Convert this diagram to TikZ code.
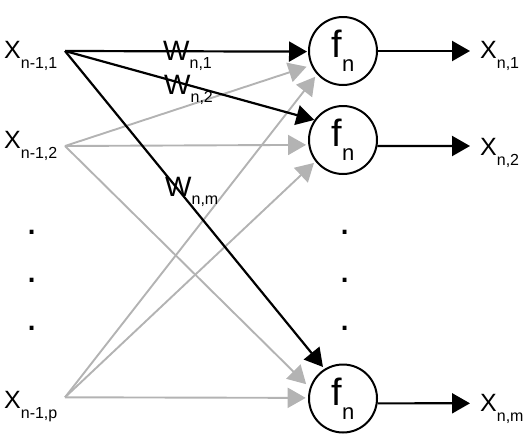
\documentclass[tikz,border=0pt]{standalone}
\usepackage{fontspec}
\setmainfont{Liberation Sans}
\usetikzlibrary{arrows.meta}
\definecolor{wiregray}{RGB}{179,179,179}
\newcommand\lsub[3]{\raisebox{-#1}{\fontsize{#2}{#2}\selectfont #3}}

\begin{document}
\begin{tikzpicture}[x=1pt, y=-1pt, >={Triangle[length=18pt, width=20pt]},
    neuron/.style={circle, draw, line width=2pt, minimum size=68pt, inner sep=0pt, font=\fontsize{38}{38}\selectfont},
    xtext/.style={anchor=base west, inner sep=0pt, font=\fontsize{25}{25}\selectfont},
    wtext/.style={anchor=base west, inner sep=0pt, font=\fontsize{28}{28}\selectfont},
    gapdot/.style={anchor=base, inner sep=0pt, font=\fontsize{40}{40}\selectfont},
    strong/.style={->, line width=2.2pt},
    weak/.style={->, line width=1.9pt, draw=wiregray}]
\useasboundingbox (0, 0) rectangle (532, 442);

% inputs
\coordinate (x1) at (65, 51);
\coordinate (x2) at (65, 146);
\coordinate (xp) at (65, 397.3);
\node[xtext] (lx1) at (4, 58) {X\lsub{10pt}{16}{n-1,1}};
\node[xtext] (lx2) at (4, 148.3) {X\lsub{10pt}{16}{n-1,2}};
\node[xtext] (lxp) at (4, 408.3) {X\lsub{10pt}{16}{n-1,p}};

% neurons
\node[neuron] (f1) at (343, 51) {f\lsub{14pt}{22}{n}};
\node[neuron] (f2) at (343, 140) {f\lsub{14pt}{22}{n}};
\node[neuron] (f3) at (343, 398.5) {f\lsub{14pt}{22}{n}};

% outputs
\coordinate (o1) at (470, 51);
\coordinate (o2) at (470, 146);
\coordinate (o3) at (470, 403.3);
\node[xtext] (ly1) at (480, 58) {X\lsub{10pt}{16}{n,1}};
\node[xtext] (ly2) at (480, 155.5) {X\lsub{10pt}{16}{n,2}};
\node[xtext] (ly3) at (480, 411.5) {X\lsub{10pt}{16}{n,m}};

% dots
\node[gapdot] (ld1) at (31.7, 234.7) {.};
\node[gapdot] (ld2) at (31.7, 282.7) {.};
\node[gapdot] (ld3) at (31.7, 330.3) {.};
\node[gapdot] (md1) at (345, 234.7) {.};
\node[gapdot] (md2) at (345, 282.7) {.};
\node[gapdot] (md3) at (345, 330.3) {.};

\draw[weak, shorten >=4.7pt] (x2) -- (f1.204);
\draw[weak, shorten >=3pt] (xp) -- (f1.222);
\draw[weak, shorten >=2.3pt] (x2) -- (f2.188);
\draw[weak, shorten >=2pt] (xp) -- (f2.218);
\draw[weak, shorten >=5pt] (x2) -- (f3.162);
\draw[weak, shorten >=2.3pt] (xp) -- (f3.179);
\draw[strong, shorten >=1pt] (x1) -- (f1.181);
\draw[strong] (x1) -- (f2.145);
\draw[strong, shorten >=2.4pt] (x1) -- (f3.122);

\draw[strong] (f1.0) -- (o1);
\draw[strong] (f2.-10) -- (o2);
\draw[strong] (f3.-8) -- (o3);

% weights
\node[wtext] (w1) at (163, 60.7) {W\lsub{8pt}{16}{n,1}};
\node[wtext] (w2) at (164, 94) {W\lsub{8pt}{16}{n,2}};
\node[wtext] (wm) at (165, 196) {W\lsub{8pt}{16}{n,m}};
\end{tikzpicture}
\end{document}
